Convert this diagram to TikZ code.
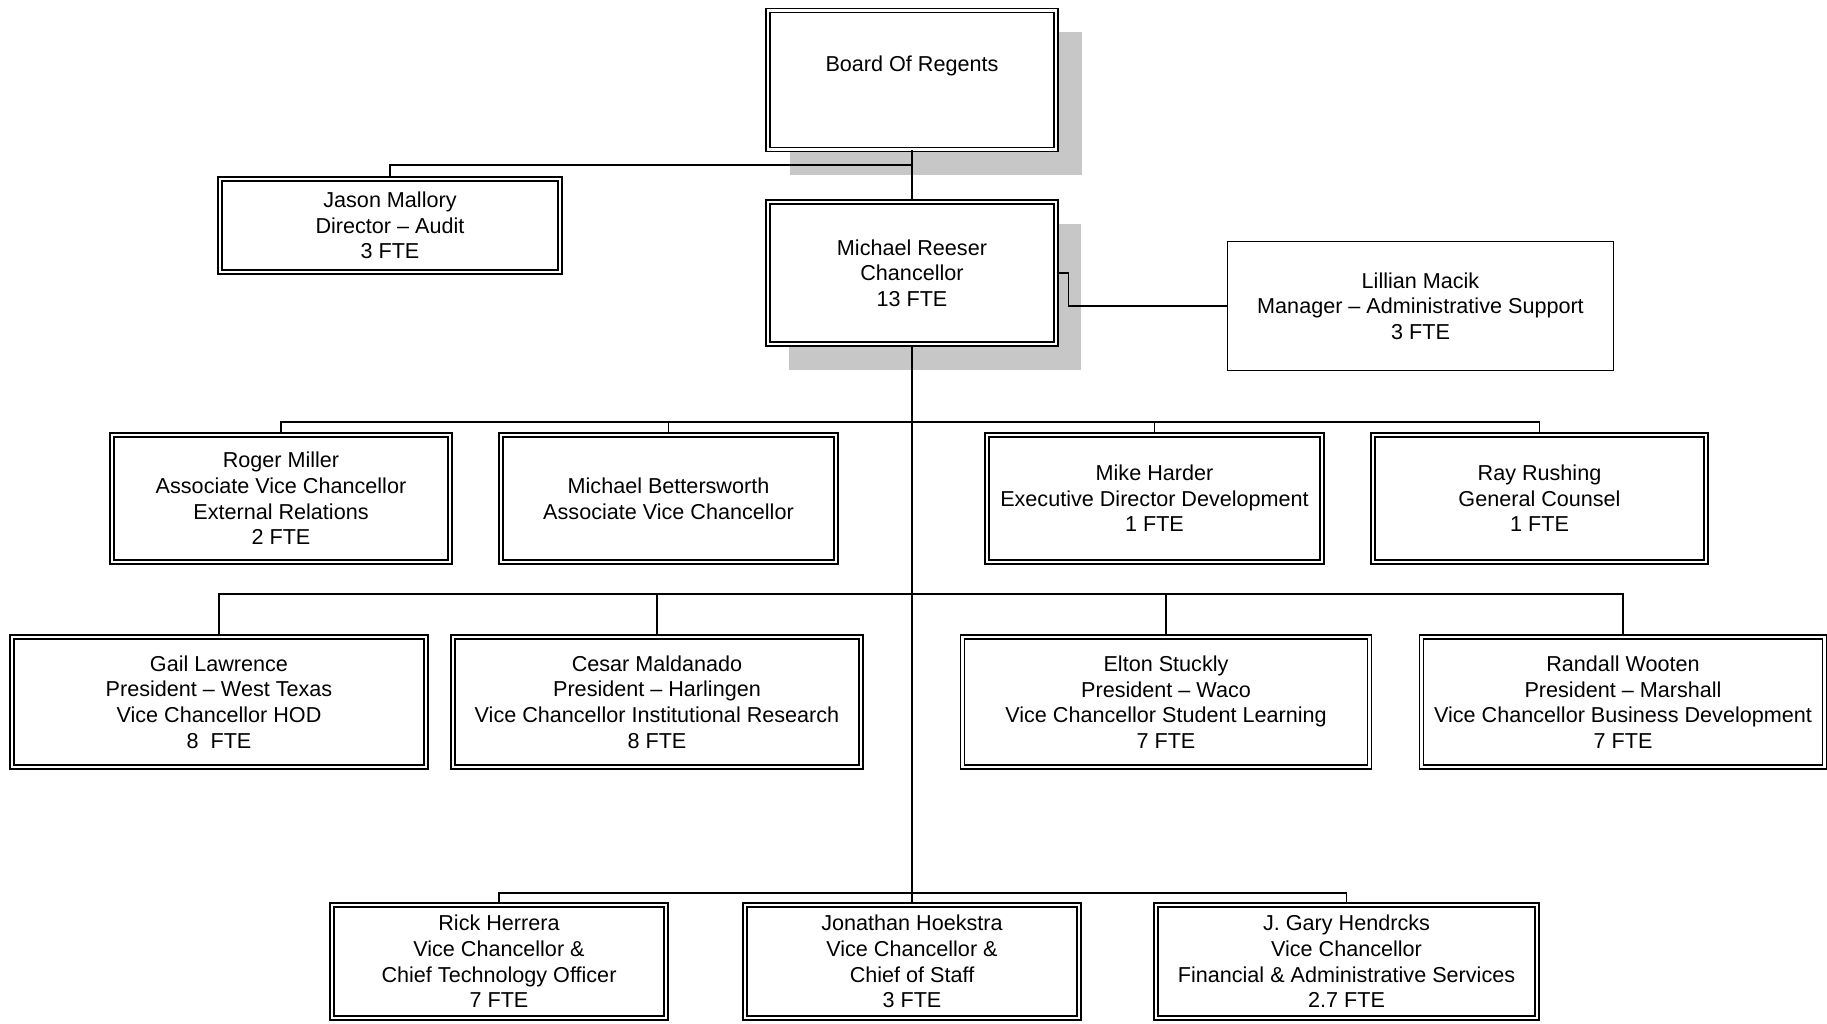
\documentclass[tikz,border=0pt]{standalone}
\usepackage{fontspec}
\setmainfont{Liberation Sans}
\begin{document}
\begin{tikzpicture}[x=1pt,y=-1pt]
\tikzset{
  txt/.style={font=\fontsize{21.6}{25.6}\selectfont, align=center},
  box/.style={txt, draw=black, double=white, double distance=2.6pt, line width=1.3pt, fill=white, inner sep=0pt},
  plainbox/.style={txt, draw=black, line width=1.3pt, fill=white, inner sep=0pt},
  conn/.style={line width=1.2pt, draw=black},
  shade/.style={fill=black!22, draw=none}
}
\useasboundingbox (0,0) rectangle (1827,1024);
\fill[white] (0,0) rectangle (1827,1024);

% shadows
\fill[shade] (790,32) rectangle (1082,175);
\fill[shade] (789,224) rectangle (1081,370);

% top
\node[box, minimum width=288pt, minimum height=139pt] (board) at (912,80) {};
\node[txt] (boardtxt) at (912,66) {Board Of Regents};
\node[box, minimum width=288pt, minimum height=142pt] (chan) at (912,273) {Michael Reeser\\Chancellor\\13 FTE};
\node[box, minimum width=340pt, minimum height=93pt] (jason) at (390,225.5) {Jason Mallory\\Director -- Audit\\3 FTE};
\node[plainbox, minimum width=386pt, minimum height=129pt] (lil) at (1420.5,306) {Lillian Macik\\Manager -- Administrative Support\\3 FTE};

% row 2
\node[box, minimum width=338pt, minimum height=127pt] (roger) at (281,498.5) {Roger Miller\\Associate Vice Chancellor\\External Relations\\2 FTE};
\node[box, minimum width=335pt, minimum height=127pt] (better) at (668.5,498.5) {Michael Bettersworth\\Associate Vice Chancellor};
\node[box, minimum width=335pt, minimum height=127pt] (harder) at (1154.5,498.5) {Mike Harder\\Executive Director Development\\1 FTE};
\node[box, minimum width=333pt, minimum height=127pt] (rush) at (1539.5,498.5) {Ray Rushing\\General Counsel\\1 FTE};

% row 3
\node[box, minimum width=414pt, minimum height=130pt] (gail) at (219,702) {Gail Lawrence\\President -- West Texas\\Vice Chancellor HOD\\8\ \ FTE};
\node[box, minimum width=408pt, minimum height=130pt] (cesar) at (657,702) {Cesar Maldanado\\President -- Harlingen\\Vice Chancellor Institutional Research\\8 FTE};
\node[box, minimum width=407pt, minimum height=130pt] (elton) at (1166,702) {Elton Stuckly\\President -- Waco\\Vice Chancellor Student Learning\\7 FTE};
\node[box, minimum width=403pt, minimum height=130pt] (randall) at (1623,702) {Randall Wooten\\President -- Marshall\\Vice Chancellor Business Development\\7 FTE};

% row 4
\node[box, minimum width=334pt, minimum height=113pt] (rick) at (499,961.5) {Rick Herrera\\Vice Chancellor \&\\Chief Technology Officer\\7 FTE};
\node[box, minimum width=334pt, minimum height=113pt] (jon) at (912,961.5) {Jonathan Hoekstra\\Vice Chancellor \&\\Chief of Staff\\3 FTE};
\node[box, minimum width=381pt, minimum height=113pt] (gary) at (1346.5,961.5) {J. Gary Hendrcks\\Vice Chancellor\\Financial \& Administrative Services\\2.7 FTE};

% connectors
\coordinate (j0) at (912,165);
\coordinate (r2) at (912,422);
\coordinate (r3) at (912,594);
\coordinate (r4) at (912,893);

\draw[conn] (board.south) -- (chan.north);
\draw[conn] (j0) -| (jason.north);
\draw[conn] (chan.east) -- ++(12,0) |- (lil.west);
\draw[conn] (chan.south) -- (jon.north);

\draw[conn] (roger.north) |- (r2) -| (rush.north);
\draw[conn] (better.north) -- (better.north |- r2);
\draw[conn] (harder.north) -- (harder.north |- r2);

\draw[conn] (gail.north) |- (r3) -| (randall.north);
\draw[conn] (cesar.north) -- (cesar.north |- r3);
\draw[conn] (elton.north) -- (elton.north |- r3);

\draw[conn] (rick.north) |- (r4) -| (gary.north);
\end{tikzpicture}
\end{document}
